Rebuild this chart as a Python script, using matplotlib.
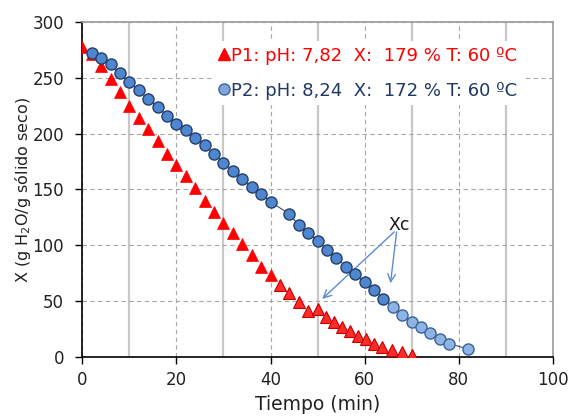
import matplotlib.pyplot as plt
from matplotlib.lines import Line2D
from matplotlib.ticker import MultipleLocator

# P1: pH 7,82 (triangles)
p1_t = [0, 2, 4, 6, 8, 10, 12, 14, 16, 18, 20, 22, 24, 26, 28, 30, 32, 34, 36, 38, 40,
        42, 44, 46, 48, 50, 51.7, 53.4, 55.2, 56.8, 58.5, 60.2, 62, 63.8, 65.8, 67.9, 70]
p1_x = [278, 271, 261, 249, 237, 225, 214, 204, 193, 182, 172, 162, 151, 140, 130, 120, 111, 101, 91, 81, 73,
        64, 57, 49, 41, 43, 36, 31, 27, 23, 19, 16, 12, 9, 6, 4, 2]

# P2: pH 8,24 (circles)
p2_t = [2, 4, 6, 8, 10, 12, 14, 16, 18, 20, 22, 24, 26, 28, 30, 32, 34, 36, 38, 40,
        44, 46, 48, 50, 52, 54, 56, 58, 60, 62, 64, 66, 68, 70, 72, 74, 76, 78, 82]
p2_x = [272, 268, 262, 254, 246, 239, 231, 224, 216, 209, 203, 196, 190, 182, 174, 167, 159, 152, 146, 139,
        128, 118, 111, 104, 96, 89, 81, 74, 67, 60, 52, 45, 38, 31, 27, 21, 16, 12, 7]

xc_t = 42    # P1 points from here drawn with a darker edge
xc2_t = 66   # P2 points from here drawn lighter

label1 = "P1: pH: 7,82  X:  179 % T: 60 ºC"
label2 = "P2: pH: 8,24  X:  172 % T: 60 ºC"

plt.rcParams['font.family'] = ['DejaVu Sans']

fig = plt.figure(figsize=(5.69, 4.16), dpi=100)
ax = fig.add_axes([0.1446, 0.142, 0.827, 0.805])

# P1
a1 = [(t, x) for t, x in zip(p1_t, p1_x) if t < xc_t]
b1 = [(t, x) for t, x in zip(p1_t, p1_x) if t >= xc_t]
ax.plot([p[0] for p in a1], [p[1] for p in a1], ls='none', marker='^', ms=8.5,
        mfc='#FF0000', mec='#FF0000', mew=0.5, zorder=4)
ax.plot([p[0] for p in b1], [p[1] for p in b1], ls='none', marker='^', ms=8.5,
        mfc='#FF2A2A', mec='#C00000', mew=0.8, zorder=4)

# P2
ax.plot(p2_t, p2_x, color='#2F4F7A', lw=0.8, zorder=3)
a2 = [(t, x) for t, x in zip(p2_t, p2_x) if t < xc2_t]
b2 = [(t, x) for t, x in zip(p2_t, p2_x) if t >= xc2_t]
ax.plot([p[0] for p in a2], [p[1] for p in a2], ls='none', marker='o', ms=8,
        mfc='#4F86D0', mec='#24406A', mew=1.0, zorder=4)
ax.plot([p[0] for p in b2], [p[1] for p in b2], ls='none', marker='o', ms=8,
        mfc='#8DB4E3', mec='#3A6399', mew=1.0, zorder=4)

# Xc annotation
ax.text(67.4, 118, "Xc", fontsize=12.5, ha='center', va='center', color='#1a1a1a')
arrow = dict(arrowstyle='->', color='#5B8BD0', lw=1, mutation_scale=14, shrinkA=0, shrinkB=0)
ax.annotate("", xy=(51, 52), xytext=(66.3, 112), arrowprops=arrow)
ax.annotate("", xy=(65.5, 66), xytext=(66.8, 112), arrowprops=arrow)

ax.set_xlim(0, 100)
ax.set_ylim(0, 300)
ax.xaxis.set_major_locator(MultipleLocator(20))
ax.xaxis.set_minor_locator(MultipleLocator(10))
ax.yaxis.set_major_locator(MultipleLocator(50))
ax.grid(True, which='major', color='#A6A6A6', ls=(0, (4, 3)), lw=0.8)
ax.grid(True, which='minor', axis='x', color='#C8C8C8', ls='-', lw=1.6)
ax.set_axisbelow(True)
ax.tick_params(which='minor', length=0)
ax.tick_params(which='major', direction='out', length=5, width=1, labelsize=12,
               colors='black')
ax.tick_params(axis='x', labelcolor='#222222', pad=5)
ax.tick_params(axis='y', labelcolor='#222222', pad=8)

for s in ['left', 'bottom']:
    ax.spines[s].set_color('black')
    ax.spines[s].set_linewidth(1.2)
for s in ['top', 'right']:
    ax.spines[s].set_color('#9A9A9A')
    ax.spines[s].set_linewidth(1.2)

ax.set_xlabel("Tiempo (min)", fontsize=13.5, color='#222222')
ax.set_ylabel("X (g H$_2$O/g sólido seco)", fontsize=11.5, color='#222222')
ax.xaxis.set_label_coords(0.5, -0.115)
ax.yaxis.set_label_coords(-0.105, 0.5)

h1 = Line2D([], [], ls='none', marker='^', ms=9, mfc='#FF0000', mec='#FF0000')
h2 = Line2D([], [], ls='none', marker='o', ms=8, mfc='#7FA6DA', mec='#3A6399')
leg = ax.legend([h1, h2], [label1, label2], loc='upper right', bbox_to_anchor=(0.955, 0.97),
                frameon=True, framealpha=1, edgecolor='none', facecolor='white',
                fontsize=13, handlelength=0.6, handletextpad=0.1, labelspacing=0.95,
                borderpad=0.3, fancybox=False)
leg.get_texts()[0].set_color('#FF0000')
leg.get_texts()[1].set_color('#1F3864')

fig.savefig("out.png", dpi=100)
